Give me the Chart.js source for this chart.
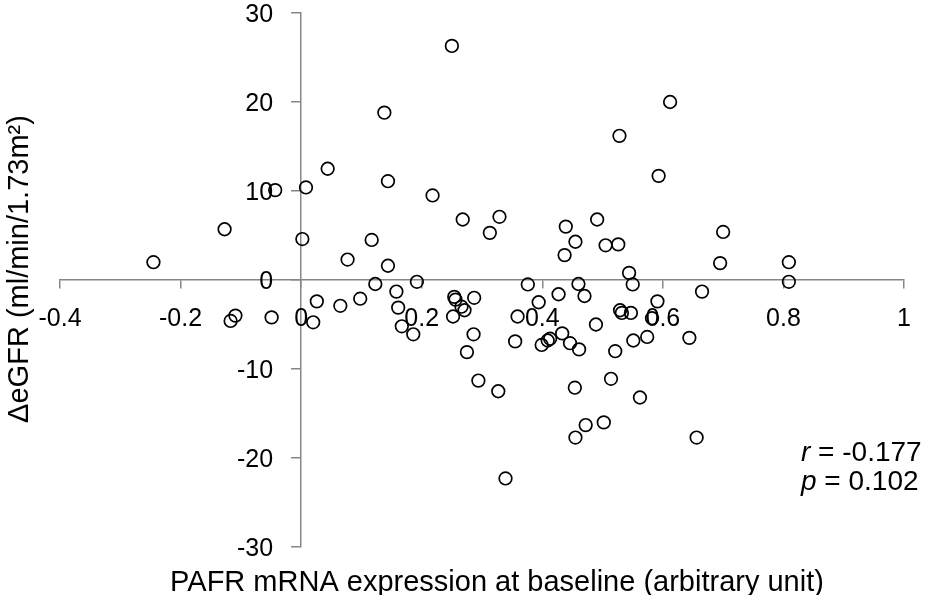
<!DOCTYPE html>
<html>
<head>
<meta charset="utf-8">
<script src="https://cdn.jsdelivr.net/npm/chart.js@4"></script>
<style>
  body { margin: 0; background: #fff; }
  #wrap { width: 926px; height: 595px; position: relative; }
</style>
</head>
<body>
<div id="wrap"><canvas id="myChart"></canvas></div>
<script>
// Datos: PAFR mRNA (x) vs cambio de eGFR (y)
const pafr = [
  -0.245, -0.127, -0.043, 0.008, 0.002, -0.117, -0.109, -0.049, 0.020, 0.026,
  0.065, 0.044, 0.077, 0.098, 0.117, 0.123, 0.138, 0.144, 0.144, 0.158,
  0.161, 0.167, 0.186, 0.192, 0.218, 0.250, 0.254, 0.256, 0.252, 0.266,
  0.271, 0.268, 0.287, 0.286, 0.275, 0.294, 0.313, 0.329, 0.327, 0.339,
  0.359, 0.355, 0.376, 0.394, 0.399, 0.409, 0.413, 0.427, 0.433, 0.437,
  0.439, 0.446, 0.455, 0.454, 0.455, 0.460, 0.461, 0.470, 0.472, 0.489,
  0.491, 0.502, 0.505, 0.514, 0.521, 0.526, 0.528, 0.529, 0.532, 0.544,
  0.547, 0.550, 0.551, 0.562, 0.574, 0.582, 0.591, 0.593, 0.612, 0.644,
  0.656, 0.665, 0.695, 0.700, 0.809, 0.809
];
const deltaEgfr = [
  2.0, 5.7, 10.1, 10.4, 4.6, -4.6, -4.0, -4.2, -4.75, -2.4,
  -2.9, 12.5, 2.3, -2.1, 4.5, -0.45, 18.8, 11.1, 1.6, -1.3,
  -3.1, -5.2, -6.1, -0.2, 9.5, 26.3, -1.9, -2.2, -4.1, -3.0,
  -3.4, 6.8, -2.0, -6.1, -8.1, -11.3, 5.3, 7.1, -12.5, -22.3,
  -4.1, -6.9, -0.5, -2.5, -7.3, -6.8, -6.6, -1.6, -6.0, 2.8,
  6.0, -7.1, 4.3, -12.1, -17.7, -0.45, -7.8, -1.8, -16.3, -5.0,
  6.8, -16.0, 3.9, -11.1, -8.0, 4.0, 16.2, -3.4, -3.7, 0.8,
  -3.7, -0.5, -6.8, -13.2, -6.4, -4.3, -2.4, 11.7, 20.0, -6.5,
  -17.7, -1.3, 1.9, 5.4, 2.0, -0.2
];
const xTicks = [-0.4, -0.2, 0, 0.2, 0.4, 0.6, 0.8, 1];
const yTicks = [-30, -20, -10, 0, 10, 20, 30];
const xTitle = 'PAFR mRNA expression at baseline (arbitrary unit)';
const yTitle = 'ΔeGFR (ml/min/1.73m²)';
const statR = '-0.177';
const statP = '0.102';

const puntos = pafr.map((x, i) => ({ x: x, y: deltaEgfr[i] }));

const ejeColor = '#868686';
const fuente = '"Liberation Sans", Arial, sans-serif';

// etiquetas de ticks (los ejes cruzan en 0), titulos y r/p
const textos = {
  id: 'textos',
  afterDraw(chart) {
    const c = chart.ctx;
    const sx = chart.scales.x;
    const sy = chart.scales.y;
    const x0 = sx.getPixelForValue(0);
    const y0 = sy.getPixelForValue(0);
    c.save();
    c.fillStyle = '#000';
    c.textBaseline = 'alphabetic';

    c.font = '25px ' + fuente;
    c.textAlign = 'center';
    xTicks.forEach(v => {
      c.fillText(String(v), sx.getPixelForValue(v), y0 + 46);
    });
    c.textAlign = 'right';
    yTicks.forEach(v => {
      c.fillText(String(v), x0 - 28, sy.getPixelForValue(v) + 9);
    });

    c.font = '29px ' + fuente;
    c.textAlign = 'center';
    c.fillText(xTitle, 497, 591);
    c.save();
    c.translate(28, 269);
    c.rotate(-Math.PI / 2);
    c.fillText(yTitle, 0, 0);
    c.restore();

    c.textAlign = 'left';
    const filas = [['r', ' = ' + statR, 461], ['p', ' = ' + statP, 490]];
    filas.forEach(f => {
      c.font = 'italic 28px ' + fuente;
      c.fillText(f[0], 801, f[2]);
      const w = c.measureText(f[0]).width;
      c.font = '28px ' + fuente;
      c.fillText(f[1], 801 + w, f[2]);
    });
    c.restore();
  }
};

const ctx = document.getElementById('myChart');
new Chart(ctx, {
  type: 'scatter',
  data: {
    datasets: [{
      label: 'ΔeGFR',
      data: puntos,
      pointRadius: 6.3,
      pointHoverRadius: 6.3,
      borderWidth: 1.7,
      borderColor: '#000',
      backgroundColor: 'rgba(0,0,0,0)'
    }]
  },
  options: {
    maintainAspectRatio: false,
    responsive: true,
    animation: false,
    layout: { padding: { left: 60, right: 22, top: 13, bottom: 48 } },
    plugins: {
      legend: { display: false },
      tooltip: { enabled: false }
    },
    scales: {
      x: {
        type: 'linear',
        position: { y: 0 },
        min: -0.4,
        max: 1,
        afterBuildTicks: s => { s.ticks = xTicks.map(v => ({ value: v })); },
        grid: { drawOnChartArea: false, drawTicks: true, tickLength: 8, color: ejeColor, lineWidth: 1.5 },
        border: { display: true, color: ejeColor, width: 1.5 },
        ticks: { display: false }
      },
      y: {
        type: 'linear',
        position: { x: 0 },
        min: -30,
        max: 30,
        afterBuildTicks: s => { s.ticks = yTicks.map(v => ({ value: v })); },
        grid: { drawOnChartArea: false, drawTicks: true, tickLength: 9, color: ejeColor, lineWidth: 1.5 },
        border: { display: true, color: ejeColor, width: 1.5 },
        ticks: { display: false }
      }
    }
  },
  plugins: [textos]
});
</script>
</body>
</html>
